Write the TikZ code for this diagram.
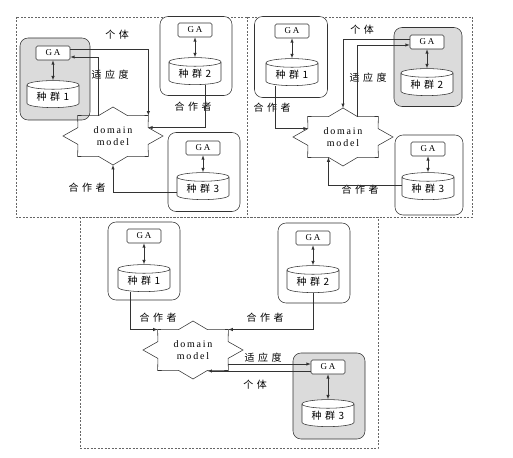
\documentclass[tikz,border=0pt]{standalone}
\usepackage{fontspec}
\newfontfamily\cjk{Noto Sans CJK SC}[LetterSpace=35]
\newfontfamily\lsp{Liberation Serif}[LetterSpace=18]
\usetikzlibrary{arrows, calc, shapes.geometric}

\tikzset{
  wire/.style={draw=black!80, line width=0.55pt},
  grp/.style={wire, rounded corners=8pt, fill=white, minimum width=70pt, minimum height=80pt},
  grpact/.style={grp, fill=black!14},
  gabox/.style={wire, fill=white, rounded corners=1.5pt, minimum width=34pt, minimum height=14pt, inner sep=1pt, font=\lsp\small},
  popdb/.style={wire, fill=white, cylinder, shape border rotate=90, aspect=0.25, minimum width=52pt, minimum height=27pt, inner sep=1pt, font=\cjk},
  lbl/.style={font=\cjk, inner sep=1pt},
  dmtext/.style={font=\lsp, align=center, inner sep=0pt},
  pborder/.style={draw=black!60, dash pattern=on 2pt off 1.5pt, line width=0.4pt}
}

% star outline round a domain model node, with its corners as coordinates
\newcommand{\dmstar}[1]{%
  \foreach \k in {0,...,15}{%
    \pgfmathsetmacro{\rx}{mod(\k,2)==0 ? 50 : 38}%
    \pgfmathsetmacro{\ry}{mod(\k,2)==0 ? 29 : 22}%
    \coordinate (#1-\k) at ($(#1)+(22.5*\k:\rx pt and \ry pt)$);
  }
  \draw[wire] (#1-0) \foreach \k in {1,...,15}{-- (#1-\k)} -- cycle;
}

\begin{document}
\begin{tikzpicture}[x=1pt, y=-1pt, >=latex]
  \useasboundingbox (0,0) rectangle (513,457);

  % panel frames
  \draw[pborder] (16,17) rectangle (472,217);
  \draw[pborder] (247,17) -- (247,217);
  \draw[pborder] (80,217) rectangle (378,448);

  % panel 1
  \node[grpact, minimum width=70pt, minimum height=82pt] (grp1) at (55,79) {};
  \node[grp, minimum width=72pt, minimum height=79pt] (grp2) at (196,56) {};
  \node[grp, minimum width=72pt, minimum height=79pt] (grp3) at (204,172) {};
  \node[gabox] (ga1) at (53,53) {GA};
  \node[popdb] (pop1) at (53,97) {种群1};
  \node[gabox] (ga2) at (195,30) {GA};
  \node[popdb] (pop2) at (195,74) {种群2};
  \node[gabox] (ga3) at (203,148) {GA};
  \node[popdb] (pop3) at (203,189) {种群3};
  \node[dmtext] (dm1) at (113,136) {domain\\model};
  \dmstar{dm1}

  \node[lbl] (ind1) at (117,35) {个体};
  \node[lbl] (fit1) at (110,75) {适应度};
  \node[lbl] (coa1) at (193,107) {合作者};
  \node[lbl] (cob1) at (87,188) {合作者};

  \draw[wire, ->] ([yshift=4pt]ga1.east) -| (dm1-2);
  \draw[wire, ->] (dm1-5) |- ([yshift=-4pt]ga1.east);
  \draw[wire, ->] ([xshift=10pt]pop2.south) |- (dm1-1);
  \draw[wire, ->] ([yshift=-3pt]pop3.west) -| (dm1-12);

  % panel 2
  \node[grp, minimum width=73pt, minimum height=81pt] (grp4) at (291,57) {};
  \node[grpact, minimum width=68pt, minimum height=79pt] (grp5) at (428,67) {};
  \node[grp, minimum width=68pt, minimum height=80pt] (grp6) at (429,175) {};
  \node[gabox] (ga4) at (292,31) {GA};
  \node[popdb] (pop4) at (292,75) {种群1};
  \node[gabox] (ga5) at (427,42) {GA};
  \node[popdb] (pop5) at (427,85) {种群2};
  \node[gabox] (ga6) at (428,149) {GA};
  \node[popdb] (pop6) at (428,189) {种群3};
  \node[dmtext] (dm2) at (343,137) {domain\\model};
  \dmstar{dm2}

  \node[lbl] (ind2) at (362,30) {个体};
  \node[lbl] (fit2) at (368,78) {适应度};
  \node[lbl] (coa2) at (272,108) {合作者};
  \node[lbl] (cob2) at (360,190) {合作者};

  \draw[wire, ->] ([yshift=3pt]ga5.west) -| (dm2-4);
  \draw[wire, ->] (dm2-3) |- ([yshift=-3pt]ga5.west);
  \draw[wire, ->] ([xshift=-17pt]pop4.south) |- (dm2-7);
  \draw[wire, ->] ([yshift=4pt]pop6.west) -| (dm2-11);

  % panel 3
  \node[grp, minimum width=72pt, minimum height=78pt] (grp7) at (144,261) {};
  \node[grp, minimum width=72pt, minimum height=80pt] (grp8) at (314,263) {};
  \node[grpact, minimum width=72pt, minimum height=86pt] (grp9) at (329,396) {};
  \node[gabox] (ga7) at (144,236) {GA};
  \node[popdb] (pop7) at (144,281) {种群1};
  \node[gabox] (ga8) at (313,238) {GA};
  \node[popdb] (pop8) at (313,282) {种群2};
  \node[gabox] (ga9) at (328,367) {GA};
  \node[popdb] (pop9) at (328,416) {种群3};
  \node[dmtext] (dm3) at (193,350) {domain\\model};
  \dmstar{dm3}

  \node[lbl] (coa3) at (158,318) {合作者};
  \node[lbl] (cob3) at (265,318) {合作者};
  \node[lbl] (fit3) at (263,358) {适应度};
  \node[lbl] (ind3) at (255,385) {个体};

  \coordinate (fitin) at ([yshift=3pt]ga9.west);
  \coordinate (indout) at ([yshift=-4pt]ga9.west);
  \draw[wire, ->] ([xshift=-14pt]pop7.south) |- (dm3-6);
  \draw[wire, ->] (pop8.south) |- (dm3-2);
  \draw[wire, ->] (dm3-15 |- fitin) -- (fitin);
  \draw[wire, ->] (indout) -- (dm3-13 |- indout);

  % GA and its population
  \foreach \i in {1,...,9}
    \draw[wire, <->] (ga\i.south) -- (ga\i.south |- pop\i.north);
\end{tikzpicture}
\end{document}
